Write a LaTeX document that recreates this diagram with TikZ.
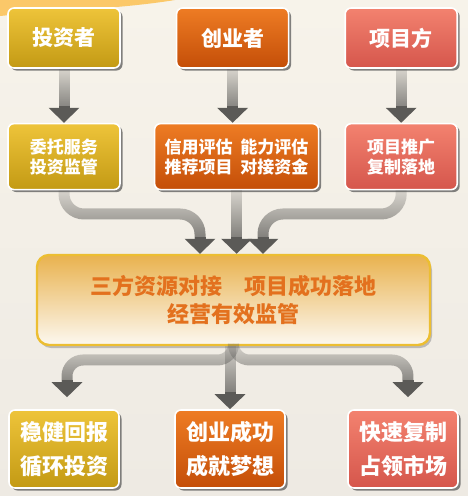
\documentclass[tikz,border=0pt]{standalone}
\usepackage{fontspec}
\newfontfamily\cjk{Noto Sans CJK SC}
\usepackage{tikz}
\usetikzlibrary{positioning, arrows.meta, shadows, fadings}

\definecolor{bgtop}{HTML}{F7F3EA}
\definecolor{bgbot}{HTML}{EEEAE3}
\definecolor{goldtop}{HTML}{EEC43A}
\definecolor{goldbot}{HTML}{C39A14}
\definecolor{orgtop}{HTML}{EE7C24}
\definecolor{orgbot}{HTML}{C44E08}
\definecolor{redtop}{HTML}{F3826F}
\definecolor{redbot}{HTML}{D5564C}
\definecolor{hubtop}{HTML}{E9B24E}
\definecolor{hubbot}{HTML}{FCF8F0}
\definecolor{hubline}{HTML}{ECBE32}
\definecolor{hubtext}{HTML}{E3711E}
\definecolor{flowgray}{HTML}{5B5A57}

\tikzfading[name=fadetop, top color=transparent!88, bottom color=transparent!0]

\begin{document}
\begin{tikzpicture}[
    x=1pt, y=-1pt,
    box/.style={rectangle, draw=white, line width=1.6pt, rounded corners=6pt, align=center,
        text=white, font=\cjk\bfseries, minimum width=112pt,
        drop shadow={shadow xshift=2.5pt, shadow yshift=-2.5pt, fill=black!65, opacity=0.75}},
    goldbox/.style={box, top color=goldtop, bottom color=goldbot},
    orgbox/.style={box, top color=orgtop, bottom color=orgbot},
    redbox/.style={box, top color=redtop, bottom color=redbot},
    rolebox/.style={minimum height=60pt, font=\cjk\bfseries\fontsize{21}{24}\selectfont},
    taskbox/.style={minimum height=66pt, font=\cjk\bfseries\fontsize{17}{20}\selectfont},
    goalbox/.style={minimum height=78pt, minimum width=110pt, font=\cjk\bfseries\fontsize{22}{34}\selectfont},
    hubbox/.style={rectangle, draw=hubline, line width=2.4pt, rounded corners=12pt, align=center,
        top color=hubtop, bottom color=hubbot, text=hubtext,
        minimum width=393pt, minimum height=90pt, font=\cjk\bfseries\fontsize{22}{28}\selectfont,
        drop shadow={shadow xshift=2pt, shadow yshift=-3pt, fill=black!40, opacity=0.6}},
    flow/.style={draw=flowgray, line width=11pt, path fading=fadetop, shorten >=14pt},
    head/.style={draw=flowgray, line width=11pt, -{Triangle[width=30pt, length=15pt]}}
]

% Background
\useasboundingbox (0,0) rectangle (468,496);
\shade[top color=bgtop, bottom color=bgbot] (0,0) rectangle (468,496);
\fill[orange!70!yellow, opacity=0.55] (0,0) -- (175,0) .. controls (120,9) and (50,11) .. (0,16) -- cycle;

% Roles
\node[goldbox, rolebox] (inv) at (64,38) {投资者};
\node[orgbox, rolebox, right=55pt of inv] (crt) {创业者};
\node[redbox, rolebox, right=55pt of crt] (prj) {项目方};

% Services
\node[goldbox, taskbox, below=54pt of inv] (isvc) {委托服务\\投资监管};
\node[orgbox, taskbox, minimum width=164pt, below=54pt of crt, xshift=4pt] (csvc) {信用评估\ \ 能力评估\\推荐项目\ \ 对接资金};
\node[redbox, taskbox, below=54pt of prj] (psvc) {项目推广\\复制落地};

% Hub
\node[hubbox] (hub) at (233.5,300) {三方资源对接\quad 项目成功落地\\经营有效监管};

% Goals
\node[goldbox, goalbox] (ret) at (64,449) {稳健回报\\循环投资};
\node[orgbox, goalbox] (dream) at (230,449) {创业成功\\成就梦想};
\node[redbox, goalbox] (mkt) at (403,449) {快速复制\\占领市场};

% Bends and tip ends
\coordinate (lin) at (200,214);
\coordinate (rin) at (263,214);
\coordinate (lout) at (67,360);
\coordinate (rout) at (408,360);
\coordinate (crtend) at (crt |- csvc.north);
\coordinate (linend) at (hub.north -| lin);
\coordinate (rinend) at (hub.north -| rin);
\coordinate (midend) at (hub.north -| csvc.south);
\path (ret.north -| lout) ++(0,-12) coordinate (loutend);
\path (mkt.north -| rout) ++(0,-12) coordinate (routend);

% Shafts
\draw[flow] (inv) -- (isvc.north);
\draw[flow] (crt) -- (crtend);
\draw[flow] (prj) -- (psvc.north);

\draw[flow, rounded corners=20pt] (isvc.south) |- (lin) -- (linend);
\draw[flow] (csvc.south) -- (midend);
\draw[flow, rounded corners=20pt] (psvc.south) |- (rin) -- (rinend);

\draw[flow, rounded corners=16pt] (hub.south) |- (lout) -- (loutend);
\draw[flow] (hub.south -| dream.north) -- (dream.north);
\draw[flow, rounded corners=16pt] (hub.south) |- (rout) -- (routend);

% Heads
\draw[head] ([yshift=17pt]isvc.north) -- (isvc.north);
\draw[head] ([yshift=17pt]crtend) -- (crtend);
\draw[head] ([yshift=17pt]psvc.north) -- (psvc.north);
\draw[head] ([yshift=17pt]linend) -- (linend);
\draw[head] ([yshift=17pt]midend) -- (midend);
\draw[head] ([yshift=17pt]rinend) -- (rinend);
\draw[head] ([yshift=17pt]loutend) -- (loutend);
\draw[head] ([yshift=17pt]dream.north) -- (dream.north);
\draw[head] ([yshift=17pt]routend) -- (routend);

\end{tikzpicture}
\end{document}
